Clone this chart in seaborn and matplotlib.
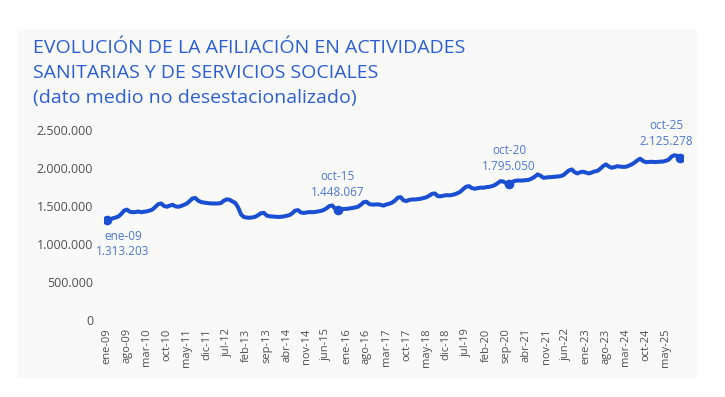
import matplotlib
matplotlib.use("Agg")
import matplotlib.pyplot as plt
from matplotlib.patches import Rectangle
from matplotlib.ticker import FuncFormatter
import pandas as pd
import seaborn as sns

# Afiliados medios mensuales (no desestacionalizados), ene-09 .. oct-25
afil_2009 = [1313203, 1322000, 1338000, 1348000, 1362000, 1395000, 1440000, 1452000, 1425000, 1418000, 1420000, 1428000]
afil_2010 = [1418000, 1424000, 1430000, 1440000, 1455000, 1490000, 1525000, 1533000, 1500000, 1490000, 1505000, 1516000]
afil_2011 = [1495000, 1490000, 1500000, 1515000, 1533000, 1565000, 1600000, 1605000, 1570000, 1552000, 1545000, 1540000]
afil_2012 = [1535000, 1533000, 1533000, 1533000, 1540000, 1570000, 1588000, 1582000, 1560000, 1540000, 1480000, 1390000]
afil_2013 = [1355000, 1348000, 1345000, 1350000, 1358000, 1380000, 1405000, 1410000, 1375000, 1365000, 1362000, 1360000]
afil_2014 = [1356000, 1358000, 1362000, 1372000, 1380000, 1405000, 1440000, 1445000, 1415000, 1408000, 1415000, 1420000]
afil_2015 = [1418000, 1422000, 1428000, 1435000, 1448000, 1470000, 1500000, 1507000, 1465000, 1448067, 1455000, 1462000]
afil_2016 = [1462000, 1468000, 1475000, 1480000, 1490000, 1515000, 1550000, 1556000, 1525000, 1518000, 1520000, 1522000]
afil_2017 = [1515000, 1505000, 1520000, 1530000, 1545000, 1572000, 1610000, 1616000, 1575000, 1565000, 1580000, 1586000]
afil_2018 = [1586000, 1590000, 1595000, 1605000, 1615000, 1635000, 1660000, 1665000, 1630000, 1628000, 1635000, 1643000]
afil_2019 = [1640000, 1645000, 1655000, 1670000, 1690000, 1725000, 1755000, 1761000, 1735000, 1727000, 1735000, 1742000]
afil_2020 = [1740000, 1748000, 1752000, 1761000, 1775000, 1800000, 1827000, 1822000, 1800000, 1795050, 1815000, 1830000]
afil_2021 = [1836000, 1834000, 1836000, 1840000, 1845000, 1862000, 1885000, 1915000, 1900000, 1872000, 1874000, 1880000]
afil_2022 = [1880000, 1885000, 1888000, 1893000, 1905000, 1937000, 1968000, 1981000, 1945000, 1928000, 1945000, 1951000]
afil_2023 = [1940000, 1928000, 1940000, 1955000, 1962000, 1990000, 2025000, 2047000, 2020000, 2003000, 2012000, 2024000]
afil_2024 = [2018000, 2015000, 2016000, 2030000, 2047000, 2070000, 2100000, 2122000, 2092000, 2077000, 2080000, 2082000]
afil_2025 = [2078000, 2080000, 2082000, 2085000, 2095000, 2110000, 2150000, 2168000, 2160000, 2125278]

years = list(range(2009, 2026))
meses = ["ene", "feb", "mar", "abr", "may", "jun", "jul", "ago", "sep", "oct", "nov", "dic"]

tick_labels = ["ene-09", "ago-09", "mar-10", "oct-10", "may-11", "dic-11", "jul-12", "feb-13",
               "sep-13", "abr-14", "nov-14", "jun-15", "ene-16", "ago-16", "mar-17", "oct-17",
               "may-18", "dic-18", "jul-19", "feb-20", "sep-20", "abr-21", "nov-21", "jun-22",
               "ene-23", "ago-23", "mar-24", "oct-24", "may-25"]
highlight = ["ene-09", "oct-15", "oct-20", "oct-25"]

values = (afil_2009 + afil_2010 + afil_2011 + afil_2012 + afil_2013 + afil_2014 + afil_2015
          + afil_2016 + afil_2017 + afil_2018 + afil_2019 + afil_2020 + afil_2021 + afil_2022
          + afil_2023 + afil_2024 + afil_2025)
labels = [f"{m}-{str(y)[2:]}" for y in years for m in meses][:len(values)]
df = pd.DataFrame({"mes": labels, "pos": range(len(values)), "afiliados": values})

LINE = "#1a4fd3"
NOTE = "#4a78d9"
TITLE = "#2b5ed8"
TICK = "#505050"


def es_num(v, _=None):
    return f"{int(v):,}".replace(",", ".")


sns.set_theme(style="white")
plt.rcParams["font.family"] = ["Open Sans", "DejaVu Sans"]

fig = plt.figure(figsize=(7.25, 3.97), dpi=100)
fig.patches.append(Rectangle((18 / 725, 1 - 378 / 397), 679 / 725, 349 / 397,
                             transform=fig.transFigure, facecolor="#f9f9f9",
                             edgecolor="none", zorder=-5))
ax = fig.add_axes([104.15 / 725, 77 / 397, 578.8 / 725, 190 / 397])
ax.set_facecolor("none")
ax.set_zorder(2)

sns.lineplot(data=df, x="pos", y="afiliados", ax=ax, color=LINE, linewidth=2.9)
hl = df[df["mes"].isin(highlight)]
sns.scatterplot(data=hl, x="pos", y="afiliados", ax=ax, color=LINE, s=48,
                linewidth=0, zorder=5)

for _, row in hl.iterrows():
    if row["mes"] == "ene-09":
        dx, d1, d2 = 11.5, -11.5, -22.5
    elif row["mes"] == "oct-25":
        dx, d1, d2 = -10, 24, 12.5
    else:
        dx, d1, d2 = 0, 24, 12.5
    ax.annotate(row["mes"], (row["pos"], row["afiliados"]), xytext=(dx, d1),
                textcoords="offset points", ha="center", va="center",
                fontsize=8.5, color=NOTE)
    ax.annotate(es_num(row["afiliados"]), (row["pos"], row["afiliados"]),
                xytext=(dx, d2), textcoords="offset points", ha="center",
                va="center", fontsize=8.5, color=NOTE)

ax.set_xlim(-1, 202)
ax.set_ylim(0, 2500000)
ax.set_yticks(range(0, 2500001, 500000))
ax.yaxis.set_major_formatter(FuncFormatter(es_num))
ax.set_xticks([labels.index(t) for t in tick_labels])
ax.set_xticklabels(tick_labels, rotation=90)
ax.tick_params(axis="both", length=0, colors=TICK)
ax.tick_params(axis="y", pad=8, labelsize=9)
ax.tick_params(axis="x", pad=6, labelsize=8)
ax.set_xlabel("")
ax.set_ylabel("")
sns.despine(ax=ax, left=True, bottom=True)

for txt, ypix in [("EVOLUCIÓN DE LA AFILIACIÓN EN ACTIVIDADES", 48),
                  ("SANITARIAS Y DE SERVICIOS SOCIALES", 73),
                  ("(dato medio no desestacionalizado)", 98)]:
    fig.text(33 / 725, 1 - ypix / 397, txt, fontsize=14, color=TITLE, va="center")

fig.savefig("out.png", dpi=100, facecolor="white")
